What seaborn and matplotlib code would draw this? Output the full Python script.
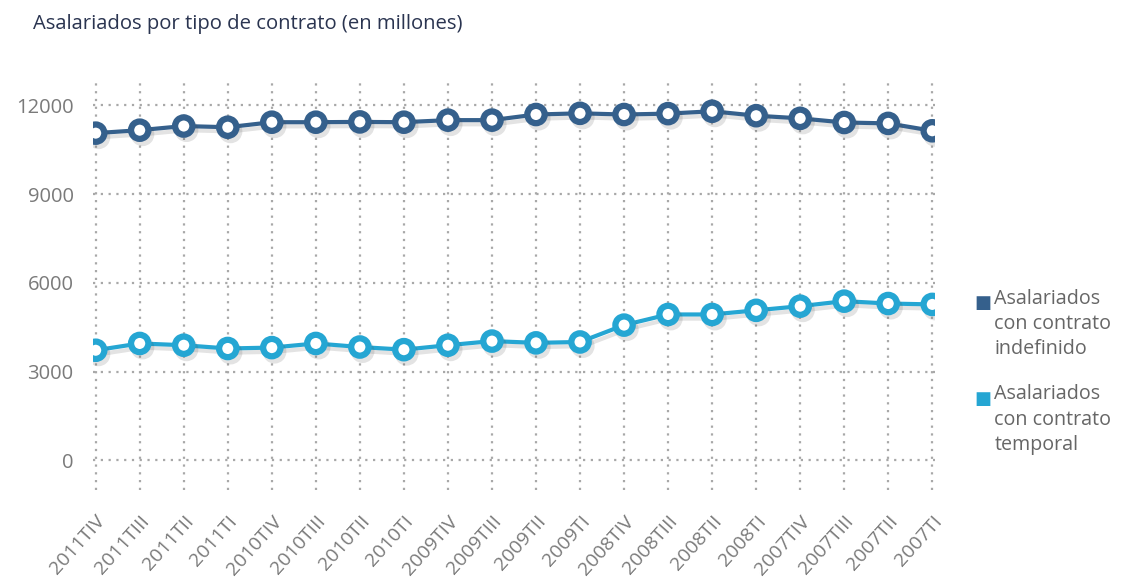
import pandas as pd
import seaborn as sns
import matplotlib.pyplot as plt
import matplotlib.patheffects as pe

# Datos (en miles)
trimestres = ['2011TIV', '2011TIII', '2011TII', '2011TI', '2010TIV', '2010TIII', '2010TII', '2010TI',
              '2009TIV', '2009TIII', '2009TII', '2009TI', '2008TIV', '2008TIII', '2008TII', '2008TI',
              '2007TIV', '2007TIII', '2007TII', '2007TI']
indefinido = [11060, 11160, 11300, 11260, 11430, 11430, 11440, 11430, 11500, 11500,
              11690, 11730, 11690, 11720, 11800, 11650, 11560, 11420, 11390, 11140]
temporal = [3720, 3950, 3890, 3780, 3810, 3950, 3830, 3740, 3890, 4030,
            3970, 4000, 4570, 4930, 4930, 5070, 5210, 5380, 5300, 5270]
series = ['Asalariados\ncon contrato\nindefinido', 'Asalariados\ncon contrato\ntemporal']

col_indef = '#35608c'
col_temp = '#25a6d3'
gris = '#7a7a7a'

df = pd.DataFrame({'trimestre': trimestres, 'indefinido': indefinido, 'temporal': temporal})
df['pos'] = range(len(df))

sns.set_theme(style='white')
plt.rcParams['font.family'] = ['Open Sans', 'DejaVu Sans']

fig = plt.figure(figsize=(11.21, 5.77), dpi=100)
ax = fig.add_axes([0.083, 0.151, 0.751, 0.71])

sombra = [pe.SimpleLineShadow(offset=(2, -3), shadow_color='#444444', alpha=0.15), pe.Normal()]

for serie, color in [('indefinido', col_indef), ('temporal', col_temp)]:
    sns.lineplot(data=df, x='pos', y=serie, ax=ax, color=color, linewidth=3,
                 marker='o', markersize=12.5, markerfacecolor='white',
                 markeredgecolor=color, markeredgewidth=4.5, zorder=3,
                 path_effects=sombra)

ax.set_xlim(-0.06, len(trimestres) - 0.94)
ax.set_ylim(-1000, 12850)
ax.set_yticks([0, 3000, 6000, 9000, 12000])
ax.set_xticks(df['pos'])
ax.set_xticklabels(trimestres, rotation=48, ha='right', rotation_mode='anchor')
ax.tick_params(axis='x', labelsize=14, colors=gris, pad=16, length=0)
ax.tick_params(axis='y', labelsize=14.5, colors=gris, pad=14, length=0)
ax.set_xlabel('')
ax.set_ylabel('')

ax.grid(True, linestyle=(0, (1, 2.5)), color='#a8a8a8', linewidth=1.6)
for s in ax.spines.values():
    s.set_visible(False)

fig.text(0.029, 0.975, 'Asalariados por tipo de contrato (en millones)',
         fontsize=14.6, color='#2a3450', va='top', ha='left')

# leyenda manual: cuadrado alineado con la primera linea
for i, (lab, color) in enumerate(zip(series, [col_indef, col_temp])):
    y = 0.500 - i * 0.166
    fig.text(0.869, y - 0.010, '■', fontsize=13, color=color, va='top', ha='left',
             family=['DejaVu Sans'])
    fig.text(0.887, y, lab, fontsize=14.2, color='#666666', va='top', ha='left',
             linespacing=1.36)

fig.savefig('out.png', dpi=100)
